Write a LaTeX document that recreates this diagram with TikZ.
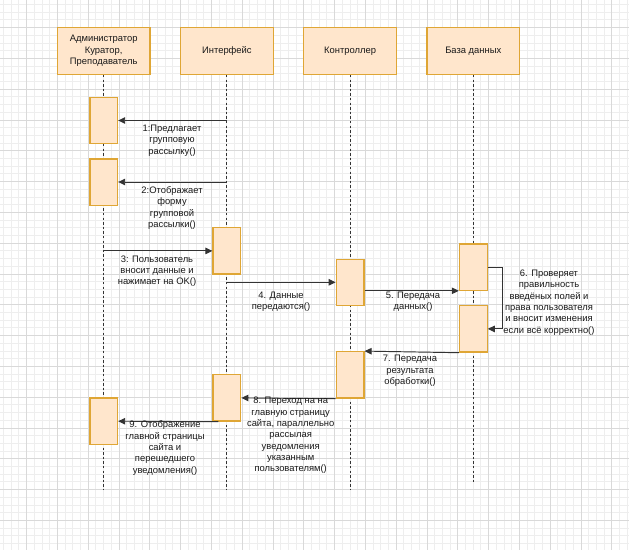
\documentclass[tikz,border=0pt]{standalone}
\usepackage{fontspec}
\setmainfont{Liberation Sans}
\usetikzlibrary{arrows.meta}
\definecolor{actfill}{HTML}{FFE6CC}
\definecolor{actline}{HTML}{DFA635}
\definecolor{gridminor}{HTML}{EEEEEE}
\definecolor{gridmajor}{HTML}{D9D9D9}
\definecolor{wire}{HTML}{333333}
\newcommand\msgfont{\fontsize{9.4}{11.3}\selectfont}

\begin{document}
\begin{tikzpicture}[x=1pt,y=-1pt,
  header/.style={draw=actline, fill=actfill, line width=1.3pt,
    minimum width=92.7pt, minimum height=47pt, inner sep=0,
    align=center, font=\msgfont, text=black!90},
  act/.style={draw=actline, fill=actfill, line width=1.3pt,
    minimum width=27.7pt, minimum height=46.3pt, inner sep=0},
  lifeline/.style={draw=wire, line width=0.9pt, dash pattern=on 2.4pt off 2.2pt},
  msg/.style={draw=wire, line width=0.95pt, -{Triangle[length=7pt,width=6.5pt]}},
  lbl/.style={align=center, inner sep=0, font=\msgfont, text=black!90}
]
% canvas with grid
\fill[white] (0,0) rectangle (629,550);
\begin{scope}
  \clip (0,0) rectangle (629,550);
  \foreach \i in {0,...,81}
    \draw[gridminor, line width=0.7pt] ({3.4+7.7*\i},0) -- ({3.4+7.7*\i},550);
  \foreach \i in {0,...,71}
    \draw[gridminor, line width=0.7pt] (0,{4.4+7.7*\i}) -- (629,{4.4+7.7*\i});
  \foreach \i in {0,...,20}
    \draw[gridmajor, line width=0.8pt] ({26.5+30.8*\i},0) -- ({26.5+30.8*\i},550);
  \foreach \i in {0,...,18}
    \draw[gridmajor, line width=0.8pt] (0,{27.5+30.8*\i}) -- (629,{27.5+30.8*\i});
\end{scope}
\useasboundingbox (0,0) rectangle (629,550);

% participants
\node[header] (hA) at (103.7,50.8) {Администратор\\Куратор,\\Преподаватель};
\node[header] (hI) at (226.9,50.8) {Интерфейс};
\node[header] (hC) at (350.1,50.8) {Контроллер};
\node[header] (hD) at (473.3,50.8) {База данных};

% lifelines
\coordinate (eA) at (103.7,490);
\coordinate (eI) at (226.9,490);
\coordinate (eC) at (350.1,490);
\coordinate (eD) at (473.3,482);
\draw[lifeline] (hA.south) -- (eA);
\draw[lifeline] (hI.south) -- (eI);
\draw[lifeline] (hC.south) -- (eC);
\draw[lifeline] (hD.south) -- (eD);

% activations
\node[act] (a1) at (103.7,120.5) {};
\node[act] (a2) at (103.7,182) {};
\node[act] (i1) at (226.9,250.9) {};
\node[act] (c1) at (350.1,282.3) {};
\node[act] (d1) at (473.3,267) {};
\node[act] (d2) at (473.3,328.9) {};
\node[act] (c2) at (350.1,374.9) {};
\node[act] (i2) at (226.9,397.9) {};
\node[act] (a3) at (103.7,421.2) {};

% messages
\draw[msg] (a1.east -| hI.south) -- (a1.east);
\draw[msg] (a2.east -| hI.south) -- (a2.east);
\draw[msg] (i1.west -| hA.south) -- (i1.west);
\draw[msg] (c1.west -| hI.south) -- (c1.west);
\draw[msg] (c1.east |- d1.south) -- (d1.south west);
\coordinate (loop) at (502.7,267);
\draw[msg] (d1.east) -- (loop) -- (loop |- d2.east) -- (d2.east);
\draw[msg] (d2.south west) -- (c2.north east);
\draw[msg] (c2.south west) -- (i2.east);
\draw[msg] ([xshift=6pt]i2.south west) -- (a3.east);

% message labels
\node[lbl] (l1) at (172,140.7) {1:Предлагает\\групповую\\рассылку()};
\node[lbl] (l2) at (172,208) {2:Отображает\\форму\\групповой\\рассылки()};
\node[lbl] (l3) at (157,271) {3: Пользователь\\вносит данные и\\нажимает на OK()};
\node[lbl] (l4) at (281,301.5) {4. Данные\\передаются()};
\node[lbl] (l5) at (413,301.5) {5. Передача\\данных()};
\node[lbl] (l6) at (549,302.5) {6. Проверяет\\правильность\\введёных полей и\\права пользователя\\и вносит изменения\\если всё корректно()};
\node[lbl] (l7) at (410,371) {7. Передача\\результата\\обработки()};
\node[lbl] (l8) at (290.7,435.5) {8. Переход на на\\главную страницу\\сайта, параллельно\\рассылая\\уведомления\\указанным\\пользователям()};
\node[lbl] (l9) at (165,448) {9. Отображение\\главной страницы\\сайта и\\перешедшего\\уведомления()};
\end{tikzpicture}
\end{document}
